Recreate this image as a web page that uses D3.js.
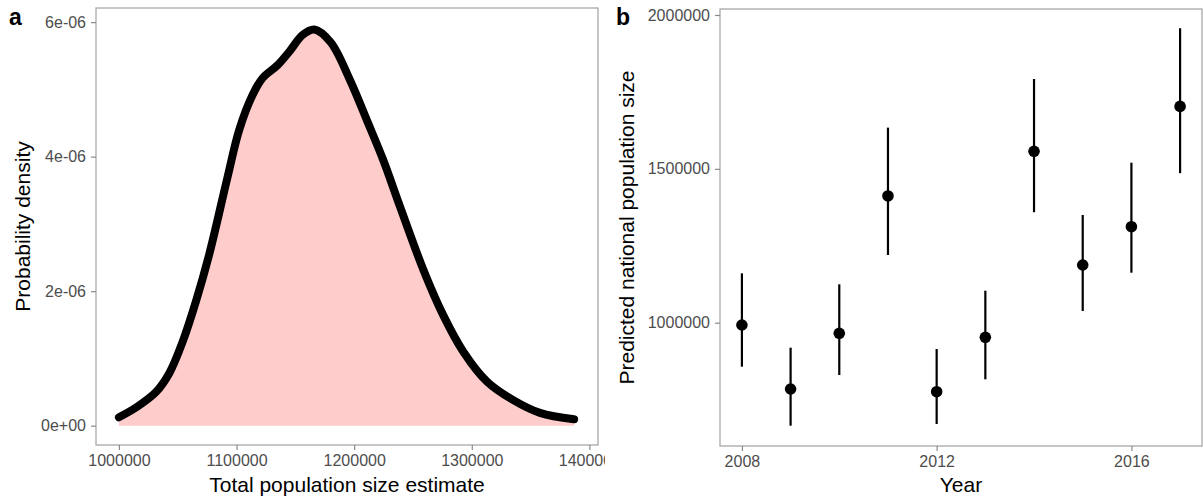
<!DOCTYPE html>
<html>
<head>
<meta charset="utf-8">
<script src="https://cdn.jsdelivr.net/npm/d3@7"></script>
<style>
  html, body { margin: 0; padding: 0; background: #fff; }
  svg { display: block; font-family: "Liberation Sans", Arial, sans-serif; }
</style>
</head>
<body>
<svg id="chart" width="1203" height="499"></svg>
<script>
// ---------- Panel a: density of total population size estimate ----------
const densX = [1000000, 1014500, 1031500, 1042800, 1054200, 1065500, 1076800,
  1092400, 1102300, 1113700, 1122200, 1134900, 1144800, 1156200, 1166100, 1180000,
  1196400, 1210600, 1224700, 1238900, 1258800, 1275800, 1292800, 1312700, 1335300,
  1358000, 1387000];
const densY = [0.125e-6, 0.27e-6, 0.50e-6, 0.78e-6, 1.25e-6, 1.85e-6, 2.55e-6,
  3.70e-6, 4.40e-6, 4.92e-6, 5.17e-6, 5.36e-6, 5.56e-6, 5.81e-6, 5.89e-6, 5.70e-6,
  5.14e-6, 4.55e-6, 3.95e-6, 3.26e-6, 2.32e-6, 1.64e-6, 1.10e-6, 0.66e-6, 0.38e-6,
  0.19e-6, 0.095e-6];
const aXTicks = [1000000, 1100000, 1200000, 1300000, 1400000];
const aYTicks = [0, 2e-6, 4e-6, 6e-6];
const aYTickLabels = ["0e+00", "2e-06", "4e-06", "6e-06"];

// ---------- Panel b: predicted national population size ----------
const years = [2008, 2009, 2010, 2011, 2012, 2013, 2014, 2015, 2016, 2017];
const predMean  = [992500, 784500, 965600, 1412000, 775800, 952600, 1557000, 1187500, 1312000, 1703000];
const predLower = [857000, 665300, 830000, 1220000, 670800, 816000, 1359000, 1038000, 1162500, 1486000];
const predUpper = [1160500, 918800, 1124800, 1634000, 914500, 1104000, 1792000, 1350000, 1520000, 1957000];
const bXTicks = [2008, 2012, 2016];
const bYTicks = [1000000, 1500000, 2000000];

const svg = d3.select("#chart");
const borderCol = "#a8a8a8", tickCol = "#8a8a8a", tickTextCol = "#4d4d4d";

// ================= Panel a =================
const defs = svg.append("defs");
defs.append("clipPath").attr("id", "clipA").append("rect")
  .attr("x", 0).attr("y", 0).attr("width", 605).attr("height", 499);

const gA = svg.append("g").attr("clip-path", "url(#clipA)");
const aL = 96, aR = 598, aT = 8, aB = 445;
const xA = d3.scaleLinear().domain([980500, 1407300]).range([aL, aR]);
const yA = d3.scaleLinear().domain([-0.287e-6, 6.21e-6]).range([aB, aT]);

const dens = densX.map((x, i) => ({x, y: densY[i]}));
const curve = d3.curveCatmullRom.alpha(0.5);
gA.append("path").datum(dens)
  .attr("fill", "#ffcccc")
  .attr("d", d3.area().x(d => xA(d.x)).y0(yA(0)).y1(d => yA(d.y)).curve(curve));
gA.append("path").datum(dens)
  .attr("fill", "none").attr("stroke", "#000").attr("stroke-width", 8)
  .attr("stroke-linecap", "round").attr("stroke-linejoin", "round")
  .attr("d", d3.line().x(d => xA(d.x)).y(d => yA(d.y)).curve(curve));

gA.append("rect").attr("x", aL).attr("y", aT).attr("width", aR - aL).attr("height", aB - aT)
  .attr("fill", "none").attr("stroke", borderCol).attr("stroke-width", 1.3);

const axA_x = gA.append("g").attr("transform", `translate(0,${aB})`)
  .call(d3.axisBottom(xA).tickValues(aXTicks).tickFormat(d3.format("d")).tickSize(5).tickPadding(5));
const axA_y = gA.append("g").attr("transform", `translate(${aL},0)`)
  .call(d3.axisLeft(yA).tickValues(aYTicks).tickFormat((d, i) => aYTickLabels[i]).tickSize(5).tickPadding(5));

// ================= Panel b =================
const gB = svg.append("g");
const bL = 720, bR = 1202, bT = 9, bB = 446;
const xB = d3.scaleLinear().domain([2007.55, 2017.45]).range([bL, bR]);
const yB = d3.scaleLinear().domain([599300, 2019500]).range([bB, bT]);

gB.append("rect").attr("x", bL).attr("y", bT).attr("width", bR - bL).attr("height", bB - bT)
  .attr("fill", "none").attr("stroke", borderCol).attr("stroke-width", 1.3);

const pts = years.map((yr, i) => ({yr, m: predMean[i], lo: predLower[i], hi: predUpper[i]}));
gB.selectAll("line.err").data(pts).enter().append("line").attr("class", "err")
  .attr("x1", d => xB(d.yr)).attr("x2", d => xB(d.yr))
  .attr("y1", d => yB(d.lo)).attr("y2", d => yB(d.hi))
  .attr("stroke", "#000").attr("stroke-width", 2.2);
gB.selectAll("circle.pt").data(pts).enter().append("circle").attr("class", "pt")
  .attr("cx", d => xB(d.yr)).attr("cy", d => yB(d.m)).attr("r", 5.8).attr("fill", "#000");

const axB_x = gB.append("g").attr("transform", `translate(0,${bB})`)
  .call(d3.axisBottom(xB).tickValues(bXTicks).tickFormat(d3.format("d")).tickSize(5).tickPadding(5));
const axB_y = gB.append("g").attr("transform", `translate(${bL},0)`)
  .call(d3.axisLeft(yB).tickValues(bYTicks).tickFormat(d3.format("d")).tickSize(5).tickPadding(5));

// style axes
[axA_x, axA_y, axB_x, axB_y].forEach(ax => {
  ax.select(".domain").remove();
  ax.selectAll(".tick line").attr("stroke", tickCol).attr("stroke-width", 1.2);
  ax.selectAll(".tick text").attr("fill", tickTextCol).attr("font-size", 16)
    .attr("font-family", "'Liberation Sans', Arial, sans-serif");
});

// titles
svg.append("text").attr("x", (aL + aR) / 2).attr("y", 492).attr("text-anchor", "middle")
  .attr("font-size", 21).attr("fill", "#000").text("Total population size estimate");
svg.append("text").attr("transform", `translate(30,${(aT + aB) / 2}) rotate(-90)`)
  .attr("text-anchor", "middle").attr("font-size", 21).attr("fill", "#000").text("Probability density");
svg.append("text").attr("x", (bL + bR) / 2).attr("y", 492).attr("text-anchor", "middle")
  .attr("font-size", 21).attr("fill", "#000").text("Year");
svg.append("text").attr("transform", `translate(634,${(bT + bB) / 2}) rotate(-90)`)
  .attr("text-anchor", "middle").attr("font-size", 21).attr("fill", "#000").text("Predicted national population size");

// panel tags
svg.append("text").attr("x", 9).attr("y", 25).attr("font-size", 23).attr("font-weight", "bold").text("a");
svg.append("text").attr("x", 616).attr("y", 25).attr("font-size", 23).attr("font-weight", "bold").text("b");
</script>
</body>
</html>
